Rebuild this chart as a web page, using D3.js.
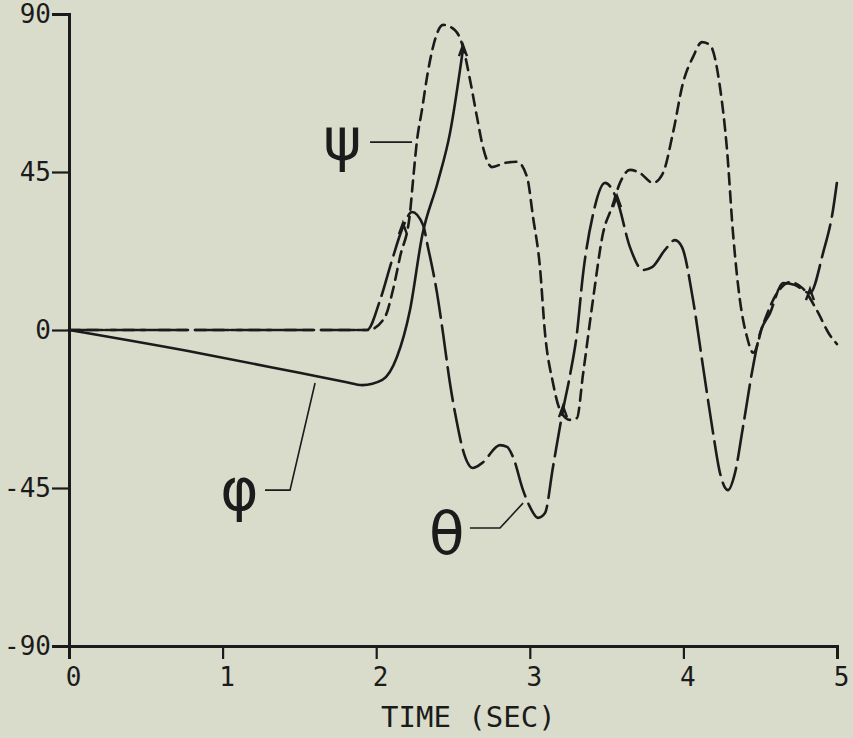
<!DOCTYPE html>
<html>
<head>
<meta charset="utf-8">
<script src="https://cdn.jsdelivr.net/npm/d3@7"></script>
<style>
  body { margin: 0; background: #d9dccb; }
  svg { display: block; }
  .axis text { font-family: "DejaVu Sans Mono", monospace; fill: #1b1b1b; }
</style>
</head>
<body>
<svg></svg>
<script>
// Values (time in s, angle in deg)
const xTicks = [0, 1, 2, 3, 4, 5];
const yTicks = [90, 45, 0, -45, -90];

// phi: solid line, stops at its arrow near 2.57 s
const phiT = [0, 0.85, 1.5, 1.8, 1.91, 2.04, 2.135, 2.22, 2.30, 2.40, 2.48, 2.565];
const phiV = [0, -6.6, -12.2, -14.8, -15.7, -14.2, -7.7, 5.7, 27, 42, 56, 80];

// theta: long dashes
const thetaT = [0, 1.0, 1.94, 2.025, 2.103, 2.174, 2.233, 2.305, 2.337, 2.396, 2.435, 2.48, 2.526, 2.565,
  2.63, 2.689, 2.806, 2.852, 2.891, 2.956, 3.001, 3.053, 3.099, 3.151, 3.216, 3.262, 3.307, 3.346,
  3.411, 3.49, 3.568, 3.652, 3.737, 3.796, 3.88, 3.945, 3.991, 4.063, 4.128, 4.193, 4.238, 4.29,
  4.336, 4.388, 4.453, 4.499, 4.564, 4.648, 4.727, 4.824, 4.909, 4.974, 5.0];
const thetaV = [0, 0, 0, 8.5, 19.9, 29.3, 33.6, 29.9, 23.6, 10.5, -0.9, -15.1, -26.5, -34.2,
  -39.3, -37.9, -32.8, -33.3, -36.2, -45.6, -50.4, -53.5, -52.1, -39, -22.8, -12.8, -0.9, 15.7,
  32.8, 41.9, 37, 23.6, 17.1, 17.9, 22.8, 25.6, 23.6, 8.5, -10.5, -29.3, -40.7, -45.6,
  -40.7, -27.6, -10.5, -0.9, 4.8, 13.4, 12.8, 10.5, 21.9, 34.2, 42.2];

// psi: short dashes
const psiT = [0, 1.0, 1.95, 2.057, 2.109, 2.155, 2.22, 2.24, 2.266, 2.298, 2.331, 2.37, 2.435, 2.513,
  2.565, 2.611, 2.656, 2.695, 2.754, 2.839, 2.917, 2.982, 3.021, 3.066, 3.099, 3.151, 3.197,
  3.262, 3.307, 3.346, 3.411, 3.477, 3.535, 3.587, 3.652, 3.717, 3.802, 3.867, 3.932, 3.997,
  4.063, 4.121, 4.173, 4.238, 4.284, 4.323, 4.368, 4.414, 4.455, 4.518, 4.609, 4.694, 4.779,
  4.87, 4.954, 5.0];
const psiV = [0, 0, 0, 3.7, 11.4, 20.8, 33.3, 42.7, 54.1, 62.7, 72.1, 80.6, 86.9, 85.4,
  80.6, 71.2, 60.7, 52.1, 46.4, 47.6, 47.9, 43.6, 32.2, 17.9, -0.9, -15.1, -22.8,
  -25.6, -25.1, -12.8, 8.5, 27.6, 35, 41.9, 45.6, 44.7, 41.9, 44.7, 56.1, 70.3,
  77.8, 82, 81.2, 69.2, 51.3, 27.6, 8.5, -2, -6.5, 1.5, 10.5, 13.6, 11.8,
  5.5, -1.5, -4];

// little plotter arrowheads on the curves
const markT = [2.174, 3.216, 3.568, 4.824, 2.565];
const markV = [29.3, -22.8, 37, 10.5, 80];

// curve labels: symbol, label position, leader path
const labelText = ["\u03C8", "\u03B8", "\u03C6"];
const labelT = [1.78, 2.46, 1.11];
const labelV = [54, -58, -45.5];
const leaderT = [[1.96, 2.233], [2.61, 2.806, 2.956], [1.276, 1.439, 1.602]];
const leaderV = [[53.5, 53.5], [-56.4, -56.4, -49.3], [-45.6, -45.6, -15.1]];

const width = 853;
const height = 738;
const margin = { top: 14, right: 16, bottom: 92, left: 69 };
const ink = "#1b1b1b";

const svg = d3.select("svg").attr("width", width).attr("height", height);

svg.append("rect")
  .attr("width", width)
  .attr("height", height)
  .attr("fill", "#d9dccb");

const x = d3.scaleLinear().domain([0, 5]).range([margin.left, width - margin.right]);
const y = d3.scaleLinear().domain([-90, 90]).range([height - margin.bottom, margin.top]);

// Axes
const xAxis = svg.append("g")
  .attr("class", "axis")
  .attr("transform", `translate(0,${y(-90)})`)
  .call(d3.axisBottom(x).tickValues(xTicks).tickSize(13).tickPadding(9).tickFormat(d3.format("d")));

const yAxis = svg.append("g")
  .attr("class", "axis")
  .attr("transform", `translate(${x(0)},0)`)
  .call(d3.axisLeft(y).tickValues(yTicks).tickSize(17).tickPadding(1)
    .tickFormat((d) => (d < 0 ? "-" + Math.abs(d) : d)));

svg.selectAll(".axis .domain").attr("stroke", ink).attr("stroke-width", 3);
svg.selectAll(".axis .tick line").attr("stroke", ink).attr("stroke-width", 2.2);
xAxis.selectAll("text").style("font-size", "26px").attr("dx", "4px");
yAxis.selectAll("text").style("font-size", "26px");

svg.append("text")
  .attr("x", x(2.6))
  .attr("y", y(-90) + 81)
  .attr("text-anchor", "middle")
  .style("font-family", "'DejaVu Sans Mono', monospace")
  .style("font-size", "29px")
  .attr("fill", ink)
  .text("TIME (SEC)");

// Curves
const line = d3.line()
  .x((d) => x(d[0]))
  .y((d) => y(d[1]))
  .curve(d3.curveMonotoneX);

const series = [
  { t: phiT, v: phiV, dash: null },
  { t: thetaT, v: thetaV, dash: "34,8" },
  { t: psiT, v: psiV, dash: "11,7" }
];

series.forEach((s) => {
  svg.append("path")
    .datum(s.t.map((t, i) => [t, s.v[i]]))
    .attr("fill", "none")
    .attr("stroke", ink)
    .attr("stroke-width", 2.6)
    .attr("stroke-linecap", "round")
    .attr("stroke-dasharray", s.dash)
    .attr("d", line);
});

// arrowheads
svg.selectAll(".mark")
  .data(markT.map((t, i) => [t, markV[i]]))
  .join("path")
  .attr("class", "mark")
  .attr("transform", (d) => `translate(${x(d[0])},${y(d[1])})`)
  .attr("d", "M-4,7L0,-4L4,7")
  .attr("fill", "none")
  .attr("stroke", ink)
  .attr("stroke-width", 2.4);

// labels with leader lines
const leader = d3.line().x((d) => x(d[0])).y((d) => y(d[1]));

labelText.forEach((txt, i) => {
  svg.append("path")
    .datum(leaderT[i].map((t, j) => [t, leaderV[i][j]]))
    .attr("fill", "none")
    .attr("stroke", ink)
    .attr("stroke-width", 1.6)
    .attr("d", leader);

  svg.append("text")
    .attr("x", x(labelT[i]))
    .attr("y", y(labelV[i]))
    .attr("text-anchor", "middle")
    .attr("dominant-baseline", "central")
    .style("font-family", "'DejaVu Sans', sans-serif")
    .style("font-size", "58px")
    .attr("fill", ink)
    .text(txt);
});
</script>
</body>
</html>
